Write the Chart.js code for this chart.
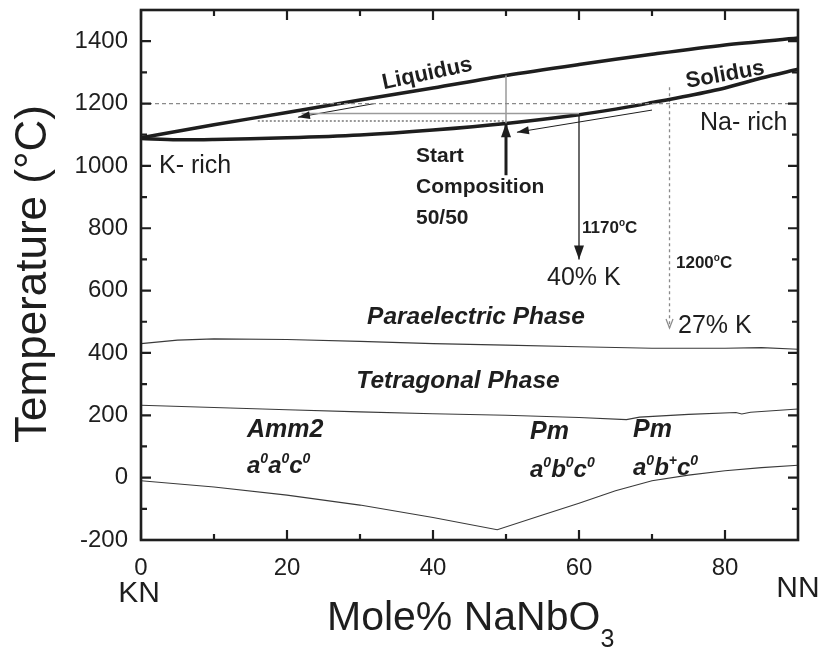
<!DOCTYPE html>
<html>
<head>
<meta charset="utf-8">
<script src="https://cdn.jsdelivr.net/npm/chart.js@4.4.0/dist/chart.umd.min.js"></script>
<style>
html, body { margin: 0; padding: 0; background: #fff; }
#wrap { width: 822px; height: 648px; }
</style>
</head>
<body>
<div id="wrap"><canvas id="phase-chart"></canvas></div>
<script>
// eixos
const xTicks = [0, 20, 40, 60, 80];
const yTicks = [-200, 0, 200, 400, 600, 800, 1000, 1200, 1400];

// liquidus e solidus
const liquidusX = [0, 5, 10, 20, 30, 40, 50, 60, 70, 80, 90];
const liquidusT = [1090, 1111, 1132, 1171, 1211, 1250, 1290, 1325, 1358, 1388, 1410];
const solidusX = [0, 5, 10, 20, 30, 40, 50, 60, 65, 70, 75, 80, 85, 90];
const solidusT = [1088, 1084, 1085, 1090, 1099, 1115, 1136, 1164, 1182, 1203, 1225, 1250, 1282, 1310];

// fronteiras de fase
const paraX = [0, 5, 10, 20, 30, 40, 50, 60, 70, 80, 85, 90];
const paraT = [430, 441, 445, 443, 437, 430, 425, 420, 415, 415, 417, 412];
const tetraX = [0, 10, 20, 30, 40, 50, 60, 66.5, 68.3, 75, 81.5, 82.3, 83.5, 90];
const tetraT = [232, 225, 218, 211, 205, 200, 193, 186, 194, 203, 209, 204, 210, 220];
const orthoX = [0, 10, 20, 30, 40, 48.8, 55, 60, 65, 70, 75, 80, 85, 90];
const orthoT = [-10, -30, -56, -88, -128, -167, -120, -82, -42, -10, 8, 22, 32, 40];

// linhas auxiliares e setas
const isoX = [0, 90], isoT = [1200, 1200];
const tieGrayX = [22, 60], tieGrayT = [1168, 1168];
const tieDotX = [16, 50], tieDotT = [1144, 1144];
const startX = [50, 50], startLineT = [1137, 1290], startArrowT = [970, 1137];
const cool1170X = [60, 60], cool1170T = [1168, 700];
const cool1200X = [72.4, 72.4], cool1200T = [1252, 480];
const liqArrowX = [32, 21.5], liqArrowT = [1200, 1156];
const solArrowX = [70, 51.5], solArrowT = [1179, 1108];

const FONT = '"Liberation Sans", Arial, Helvetica, sans-serif';
const INK = '#1e1e1e';

function pts(xs, ys) {
  return xs.map((x, i) => ({ x: x, y: ys[i] }));
}

function line(xs, ys, opts) {
  return Object.assign({
    data: pts(xs, ys),
    showLine: true,
    pointRadius: 0,
    borderColor: INK,
    borderWidth: 1,
    tension: 0,
    fill: false
  }, opts);
}

function richText(ctx, x, y, parts, size, style) {
  let cx = x;
  parts.forEach(([t, mode]) => {
    const s = mode ? Math.round(size * 0.6) : size;
    ctx.font = style + ' ' + s + 'px ' + FONT;
    const dy = mode === 'sup' ? -size * 0.42 : (mode === 'sub' ? size * 0.42 : 0);
    ctx.fillText(t, cx, y + dy);
    cx += ctx.measureText(t).width;
  });
  return cx - x;
}

function arrowHead(ctx, x1, y1, x2, y2, len, half, open, color) {
  const a = Math.atan2(y2 - y1, x2 - x1);
  const bx = x2 - len * Math.cos(a), by = y2 - len * Math.sin(a);
  const px = half * Math.sin(a), py = -half * Math.cos(a);
  ctx.save();
  ctx.setLineDash([]);
  ctx.strokeStyle = color;
  ctx.fillStyle = color;
  ctx.lineWidth = 1.2;
  ctx.beginPath();
  ctx.moveTo(bx + px, by + py);
  ctx.lineTo(x2, y2);
  ctx.lineTo(bx - px, by - py);
  if (open) {
    ctx.stroke();
  } else {
    ctx.closePath();
    ctx.fill();
  }
  ctx.restore();
}

const annotPlugin = {
  id: 'annot',
  afterDatasetsDraw(chart) {
    const ctx = chart.ctx;
    const a = chart.chartArea;
    const sx = chart.scales.x, sy = chart.scales.y;

    // pontas de seta
    chart.data.datasets.forEach((ds, i) => {
      if (!ds.arrow) return;
      const p = chart.getDatasetMeta(i).data;
      const p1 = p[p.length - 2], p2 = p[p.length - 1];
      arrowHead(ctx, p1.x, p1.y, p2.x, p2.y, ds.arrow.len, ds.arrow.half, ds.arrow.open, ds.borderColor);
    });

    // moldura e ticks internos
    ctx.save();
    ctx.strokeStyle = INK;
    ctx.lineWidth = 2.6;
    ctx.strokeRect(a.left, a.top, a.right - a.left, a.bottom - a.top);
    ctx.lineWidth = 2.2;
    ctx.beginPath();
    for (let v = 0; v < 90; v += 10) {
      const x = sx.getPixelForValue(v);
      const L = v % 20 === 0 ? 10 : 6;
      ctx.moveTo(x, a.bottom); ctx.lineTo(x, a.bottom - L);
      ctx.moveTo(x, a.top); ctx.lineTo(x, a.top + L);
    }
    for (let v = -200; v < 1500; v += 100) {
      const y = sy.getPixelForValue(v);
      const L = v % 200 === 0 ? 10 : 6;
      ctx.moveTo(a.left, y); ctx.lineTo(a.left + L, y);
      ctx.moveTo(a.right, y); ctx.lineTo(a.right - L, y);
    }
    ctx.stroke();
    ctx.restore();

    // textos
    ctx.save();
    ctx.fillStyle = INK;
    ctx.textBaseline = 'alphabetic';
    ctx.textAlign = 'left';

    // títulos dos eixos
    ctx.save();
    ctx.translate(46, 274);
    ctx.rotate(-Math.PI / 2);
    ctx.textAlign = 'center';
    ctx.font = '44px ' + FONT;
    ctx.fillText('Temperature (°C)', 0, 0);
    ctx.restore();
    richText(ctx, 327, 630, [['Mole% NaNbO'], ['3', 'sub']], 41, '');
    ctx.textAlign = 'center';
    ctx.font = '30px ' + FONT;
    ctx.fillText('KN', 139, 602);
    ctx.fillText('NN', 798, 597);
    ctx.textAlign = 'left';

    // liquidus / solidus
    ctx.font = 'bold 22px ' + FONT;
    ctx.save();
    ctx.translate(427, 73);
    ctx.rotate(-12 * Math.PI / 180);
    ctx.textAlign = 'center';
    ctx.fillText('Liquidus', 0, 7);
    ctx.restore();
    ctx.save();
    ctx.translate(725, 74);
    ctx.rotate(-10 * Math.PI / 180);
    ctx.textAlign = 'center';
    ctx.fillText('Solidus', 0, 7);
    ctx.restore();

    ctx.font = '25px ' + FONT;
    ctx.fillText('K- rich', 159, 173);
    ctx.fillText('Na- rich', 700, 130);
    ctx.fillText('40% K', 547, 285);
    ctx.fillText('27% K', 678, 333);

    ctx.font = 'bold 21px ' + FONT;
    ctx.fillText('Start', 416, 162);
    ctx.fillText('Composition', 416, 193);
    ctx.fillText('50/50', 416, 224);

    richText(ctx, 582, 233, [['1170'], ['o', 'sup'], ['C']], 17, 'bold');
    richText(ctx, 676, 268, [['1200'], ['o', 'sup'], ['C']], 17, 'bold');

    ctx.textAlign = 'center';
    ctx.font = 'italic bold 24.5px ' + FONT;
    ctx.fillText('Paraelectric Phase', 476, 324);
    ctx.fillText('Tetragonal Phase', 458, 388);
    ctx.textAlign = 'left';

    ctx.font = 'italic bold 25px ' + FONT;
    ctx.fillText('Amm2', 247, 437);
    ctx.fillText('Pm', 530, 439);
    ctx.fillText('Pm', 633, 437);
    richText(ctx, 247, 473, [['a'], ['0', 'sup'], ['a'], ['0', 'sup'], ['c'], ['0', 'sup']], 24, 'italic bold');
    richText(ctx, 530, 477, [['a'], ['0', 'sup'], ['b'], ['0', 'sup'], ['c'], ['0', 'sup']], 24, 'italic bold');
    richText(ctx, 633, 475, [['a'], ['0', 'sup'], ['b'], ['+', 'sup'], ['c'], ['0', 'sup']], 24, 'italic bold');
    ctx.restore();
  }
};

const ctx = document.getElementById('phase-chart').getContext('2d');
new Chart(ctx, {
  type: 'scatter',
  data: {
    datasets: [
      line(isoX, isoT, { borderColor: '#8a8a8a', borderWidth: 1.2, borderDash: [4, 3] }),
      line(tieGrayX, tieGrayT, { borderColor: '#9a9a9a', borderWidth: 1.5 }),
      line(tieDotX, tieDotT, { borderColor: '#333', borderWidth: 1.2, borderDash: [2, 2] }),
      line(startX, startLineT, { borderColor: '#9a9a9a', borderWidth: 1.5 }),
      line(liquidusX, liquidusT, { borderWidth: 3.5, tension: 0.3 }),
      line(solidusX, solidusT, { borderWidth: 3.5, tension: 0.3 }),
      line(startX, startArrowT, { borderWidth: 3, arrow: { len: 14, half: 5, open: false } }),
      line(cool1170X, cool1170T, { borderWidth: 1.3, arrow: { len: 14, half: 5, open: false } }),
      line(cool1200X, cool1200T, { borderColor: '#8a8a8a', borderWidth: 1.3, borderDash: [3, 3], arrow: { len: 9, half: 3.5, open: true } }),
      line(liqArrowX, liqArrowT, { borderWidth: 1, arrow: { len: 12, half: 4, open: false } }),
      line(solArrowX, solArrowT, { borderWidth: 1, arrow: { len: 12, half: 4, open: false } }),
      line(paraX, paraT, { borderColor: '#3a3a3a', borderWidth: 1.1 }),
      line(tetraX, tetraT, { borderColor: '#3a3a3a', borderWidth: 1.1 }),
      line(orthoX, orthoT, { borderColor: '#3a3a3a', borderWidth: 1.1 })
    ]
  },
  options: {
    responsive: true,
    maintainAspectRatio: false,
    animation: false,
    layout: { padding: { left: 0, right: 24, top: 10, bottom: 0 } },
    plugins: {
      legend: { display: false },
      tooltip: { enabled: false }
    },
    scales: {
      x: {
        type: 'linear',
        min: 0,
        max: 90,
        afterFit: (scale) => { scale.height = 108; scale.paddingLeft = 0; scale.paddingRight = 0; },
        afterBuildTicks: (scale) => { scale.ticks = xTicks.map(v => ({ value: v })); },
        grid: { display: false, drawTicks: false },
        border: { display: false },
        ticks: { padding: 14, color: INK, font: { family: FONT, size: 24 }, callback: (v) => String(v) }
      },
      y: {
        type: 'linear',
        min: -200,
        max: 1500,
        afterFit: (scale) => { scale.width = 141; scale.paddingTop = 0; scale.paddingBottom = 0; },
        afterBuildTicks: (scale) => { scale.ticks = yTicks.map(v => ({ value: v })); },
        grid: { display: false, drawTicks: false },
        border: { display: false },
        ticks: { padding: 13, color: INK, font: { family: FONT, size: 24 }, callback: (v) => String(v) }
      }
    }
  },
  plugins: [annotPlugin]
});
</script>
</body>
</html>
